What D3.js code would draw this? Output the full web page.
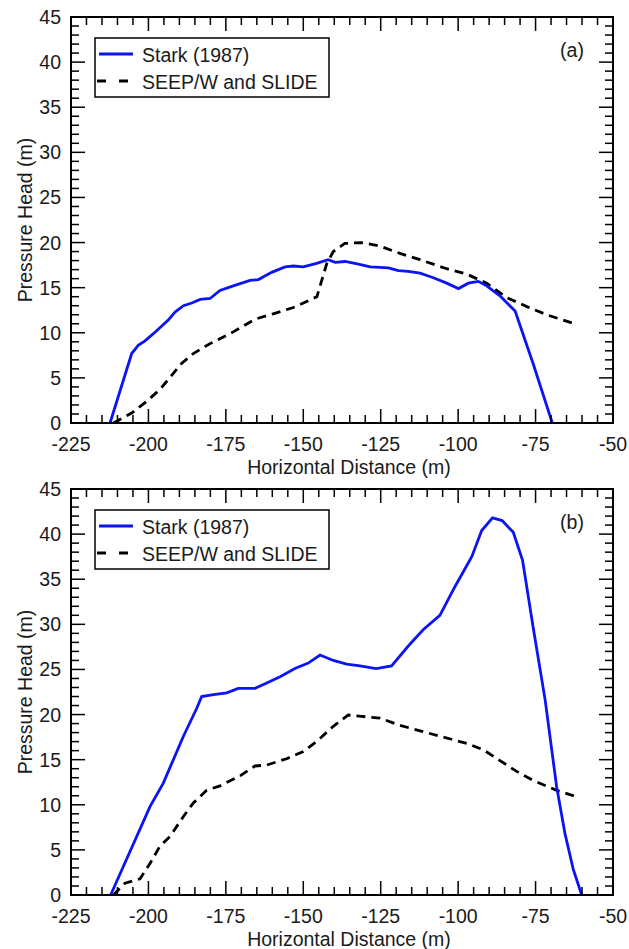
<!DOCTYPE html>
<html>
<head>
<meta charset="utf-8">
<script src="https://cdn.jsdelivr.net/npm/d3@7"></script>
<style>
  body { margin: 0; background: #fff; }
  svg { display: block; font-family: Arial, "Liberation Sans", sans-serif; }
</style>
</head>
<body>
<svg id="chart" width="629" height="949"></svg>
<script>
// x ticks / y ticks
const xTicks = [-225, -200, -175, -150, -125, -100, -75, -50];
const yTicks = [0, 5, 10, 15, 20, 25, 30, 35, 40, 45];
const seriesNames = ["Stark (1987)", "SEEP/W and SLIDE"];

// panel (a)
const starkA = [[-212.4,0],[-205.4,7.7],[-203.3,8.6],[-201.1,9.1],[-198.4,9.9],[-193.6,11.4],[-191.4,12.3],
  [-188.7,13.0],[-186,13.3],[-183.3,13.7],[-180.1,13.8],[-176.9,14.7],[-172.6,15.2],[-167.2,15.8],[-164.5,15.9],
  [-160.2,16.7],[-155.9,17.3],[-153.2,17.4],[-150,17.3],[-145.7,17.7],[-142,18.1],[-139.7,17.8],[-136.5,17.9],
  [-132.2,17.6],[-128.4,17.3],[-122.5,17.2],[-119.3,16.9],[-116.1,16.8],[-112.3,16.6],[-108,16.1],[-103.7,15.5],
  [-99.9,14.9],[-96.7,15.5],[-93.5,15.7],[-90.8,15.2],[-86.5,14.1],[-81.6,12.4],[-75.8,6.6],[-69.6,0]];
const seepA = [[-211.3,0],[-205.4,1.1],[-200.6,2.4],[-196.3,3.7],[-189.3,6.6],[-185.5,7.7],[-180.1,8.8],
  [-172.6,10.1],[-165.6,11.5],[-159.7,12.1],[-153.2,12.8],[-145.6,14.0],[-142.4,17.7],[-140.3,19.0],[-136.6,19.9],
  [-131.2,20.0],[-125.2,19.6],[-118.8,18.8],[-112.3,18.1],[-103.7,17.1],[-97.2,16.5],[-90.8,15.5],[-84.3,13.9],
  [-77.8,12.9],[-71.4,12.0],[-63.3,11.1]];

// panel (b)
const starkB = [[-212.2,0],[-199.5,9.8],[-195.2,12.4],[-188.7,17.6],[-184.4,20.7],[-182.8,22.0],[-179,22.2],
  [-174.7,22.4],[-171,22.9],[-165.6,22.9],[-161.8,23.5],[-157.5,24.2],[-152.7,25.1],[-148.4,25.7],[-144.6,26.6],
  [-140.3,26.0],[-136,25.6],[-131.7,25.4],[-126.5,25.1],[-121.5,25.4],[-116.1,27.6],[-111.3,29.4],[-105.9,31.0],
  [-101,34.2],[-95.6,37.5],[-92.4,40.4],[-88.9,41.8],[-85.8,41.5],[-82.2,40.2],[-79.2,37.1],[-75.8,29.7],
  [-71.9,21.6],[-68.2,12.0],[-65.5,6.8],[-62.8,2.8],[-60.1,0]];
const seepB = [[-211.3,0],[-207.6,1.3],[-202.7,1.8],[-199.5,3.5],[-196.3,5.4],[-193,6.5],[-188.7,8.7],
  [-185.5,10.2],[-181.2,11.6],[-176.9,12.1],[-170.4,13.2],[-165.6,14.3],[-161.8,14.4],[-155.4,15.1],[-150,15.9],
  [-145.4,17.1],[-140.3,18.7],[-135.5,19.95],[-131.2,19.8],[-125.2,19.6],[-118.8,18.8],[-112.3,18.2],[-105.9,17.6],
  [-97.2,16.8],[-91.9,16.1],[-86.5,14.9],[-81.1,13.7],[-75.8,12.7],[-68.2,11.6],[-61.0,10.8]];

const panels = [
  {tag: "(a)", top: 17, stark: starkA, seep: seepA},
  {tag: "(b)", top: 489, stark: starkB, seep: seepB}
];

const svg = d3.select("#chart");
const left = 71, right = 613, h = 406;
const blue = "#0a14f5";
const ink = "#1a1a1a";
const fs = 19.5;

const x = d3.scaleLinear().domain([-225, -50]).range([left, right]);

panels.forEach(p => {
  const y = d3.scaleLinear().domain([0, 45]).range([p.top + h, p.top]);
  const g = svg.append("g");

  const line = d3.line().x(d => x(d[0])).y(d => y(d[1]));

  g.append("path").datum(p.seep)
    .attr("d", line)
    .attr("fill", "none")
    .attr("stroke", "#000")
    .attr("stroke-width", 2.8)
    .attr("stroke-dasharray", "9,6");

  g.append("path").datum(p.stark)
    .attr("d", line)
    .attr("fill", "none")
    .attr("stroke", blue)
    .attr("stroke-width", 2.8);

  // ticks, inward on all sides
  const xMinor = d3.range(-225, -49, 5);
  const yMinor = d3.range(0, 46, 1);
  const tickLen = (v, step) => (v % step === 0 ? 14 : 8);

  g.selectAll(".xt").data(xMinor).enter().append("line")
    .attr("x1", d => x(d)).attr("x2", d => x(d))
    .attr("y1", p.top + h).attr("y2", d => p.top + h - tickLen(d, 25))
    .attr("stroke", "#000").attr("stroke-width", 1.5);
  g.selectAll(".xtt").data(xMinor).enter().append("line")
    .attr("x1", d => x(d)).attr("x2", d => x(d))
    .attr("y1", p.top).attr("y2", d => p.top + tickLen(d, 25))
    .attr("stroke", "#000").attr("stroke-width", 1.5);
  g.selectAll(".yt").data(yMinor).enter().append("line")
    .attr("y1", d => y(d)).attr("y2", d => y(d))
    .attr("x1", left).attr("x2", d => left + tickLen(d, 5))
    .attr("stroke", "#000").attr("stroke-width", 1.5);
  g.selectAll(".ytr").data(yMinor).enter().append("line")
    .attr("y1", d => y(d)).attr("y2", d => y(d))
    .attr("x1", right).attr("x2", d => right - tickLen(d, 5))
    .attr("stroke", "#000").attr("stroke-width", 1.5);

  g.append("rect")
    .attr("x", left).attr("y", p.top)
    .attr("width", right - left).attr("height", h)
    .attr("fill", "none").attr("stroke", "#000").attr("stroke-width", 2);

  // tick labels
  g.selectAll(".xl").data(xTicks).enter().append("text")
    .attr("x", d => x(d)).attr("y", p.top + h + 28)
    .attr("text-anchor", "middle").attr("font-size", fs).attr("fill", ink)
    .text(d => d);
  g.selectAll(".yl").data(yTicks).enter().append("text")
    .attr("x", left - 10).attr("y", d => y(d) + 7)
    .attr("text-anchor", "end").attr("font-size", fs).attr("fill", ink)
    .text(d => d);

  g.append("text")
    .attr("x", 349).attr("y", p.top + h + 51)
    .attr("text-anchor", "middle").attr("font-size", fs).attr("fill", ink)
    .text("Horizontal Distance (m)");
  g.append("text")
    .attr("transform", `translate(32,${p.top + h / 2}) rotate(-90)`)
    .attr("text-anchor", "middle").attr("font-size", fs).attr("fill", ink)
    .text("Pressure Head (m)");

  g.append("text")
    .attr("x", 572).attr("y", p.top + 40)
    .attr("text-anchor", "middle").attr("font-size", fs).attr("fill", ink)
    .text(p.tag);

  // legend
  const lg = g.append("g").attr("transform", `translate(95,${p.top + 21})`);
  lg.append("rect").attr("width", 234).attr("height", 59)
    .attr("fill", "#fff").attr("stroke", "#000").attr("stroke-width", 1.5);
  seriesNames.forEach((name, i) => {
    const ly = 16 + i * 27;
    lg.append("line")
      .attr("x1", i === 0 ? 4 : 2).attr("x2", 38).attr("y1", ly).attr("y2", ly)
      .attr("stroke", i === 0 ? blue : "#000").attr("stroke-width", 2.8)
      .attr("stroke-dasharray", i === 0 ? null : "9,13");
    lg.append("text")
      .attr("x", 47).attr("y", ly + 8)
      .attr("font-size", fs).attr("fill", ink)
      .text(name);
  });
});
</script>
</body>
</html>
